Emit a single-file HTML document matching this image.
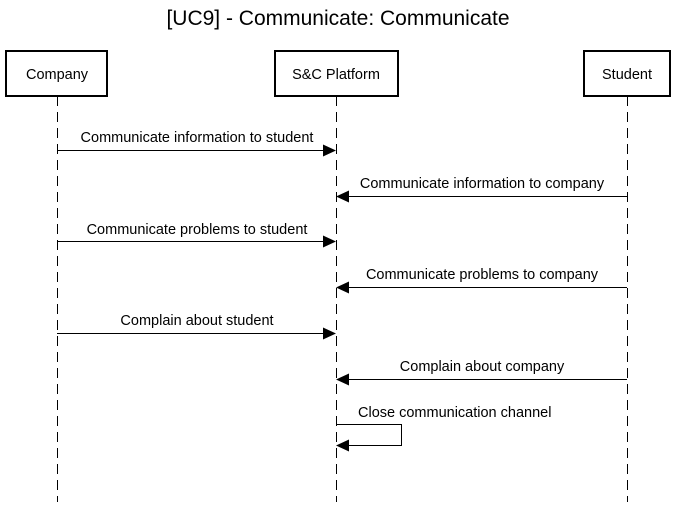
<!DOCTYPE html>
<html><head><style>body{margin:0;background:#fff}</style></head><body>
<svg width="677" height="502" xmlns="http://www.w3.org/2000/svg" font-family="Liberation Sans, Arial, sans-serif">
<rect width="677" height="502" fill="#fff"/>
<text x="338" y="25" font-size="21" text-anchor="middle">[UC9] - Communicate: Communicate</text>
<g stroke="#000" stroke-width="1" stroke-dasharray="10,6">
<line x1="57.5" y1="96" x2="57.5" y2="502"/>
<line x1="336.5" y1="96" x2="336.5" y2="502"/>
<line x1="627.5" y1="96" x2="627.5" y2="502"/>
</g>
<g fill="#fff" stroke="#000" stroke-width="2">
<rect x="6" y="51" width="101" height="45"/>
<rect x="275" y="51" width="123" height="45"/>
<rect x="584" y="51" width="86" height="45"/>
</g>
<g font-size="14.5" text-anchor="middle">
<text x="57" y="79">Company</text>
<text x="336" y="79">S&amp;C Platform</text>
<text x="627" y="79">Student</text>
</g>
<g stroke="#000" stroke-width="1" fill="none">
<line x1="57" y1="150.5" x2="324" y2="150.5"/>
<line x1="349" y1="196.5" x2="627" y2="196.5"/>
<line x1="57" y1="241.5" x2="324" y2="241.5"/>
<line x1="349" y1="287.5" x2="627" y2="287.5"/>
<line x1="57" y1="333.5" x2="324" y2="333.5"/>
<line x1="349" y1="379.5" x2="627" y2="379.5"/>
<polyline points="336,424.5 401.5,424.5 401.5,445.5 349,445.5"/>
</g>
<g fill="#000">
<polygon points="336,150.5 323,144.5 323,156.5"/>
<polygon points="336,196.5 349,190.5 349,202.5"/>
<polygon points="336,241.5 323,235.5 323,247.5"/>
<polygon points="336,287.5 349,281.5 349,293.5"/>
<polygon points="336,333.5 323,327.5 323,339.5"/>
<polygon points="336,379.5 349,373.5 349,385.5"/>
<polygon points="336,445.5 349,439.5 349,451.5"/>
</g>
<g font-size="14.5" text-anchor="middle">
<text x="197" y="142">Communicate information to student</text>
<text x="482" y="188">Communicate information to company</text>
<text x="197" y="234">Communicate problems to student</text>
<text x="482" y="279">Communicate problems to company</text>
<text x="197" y="325">Complain about student</text>
<text x="482" y="371">Complain about company</text>
<text x="358" y="417" text-anchor="start">Close communication channel</text>
</g>
</svg>
</body></html>
